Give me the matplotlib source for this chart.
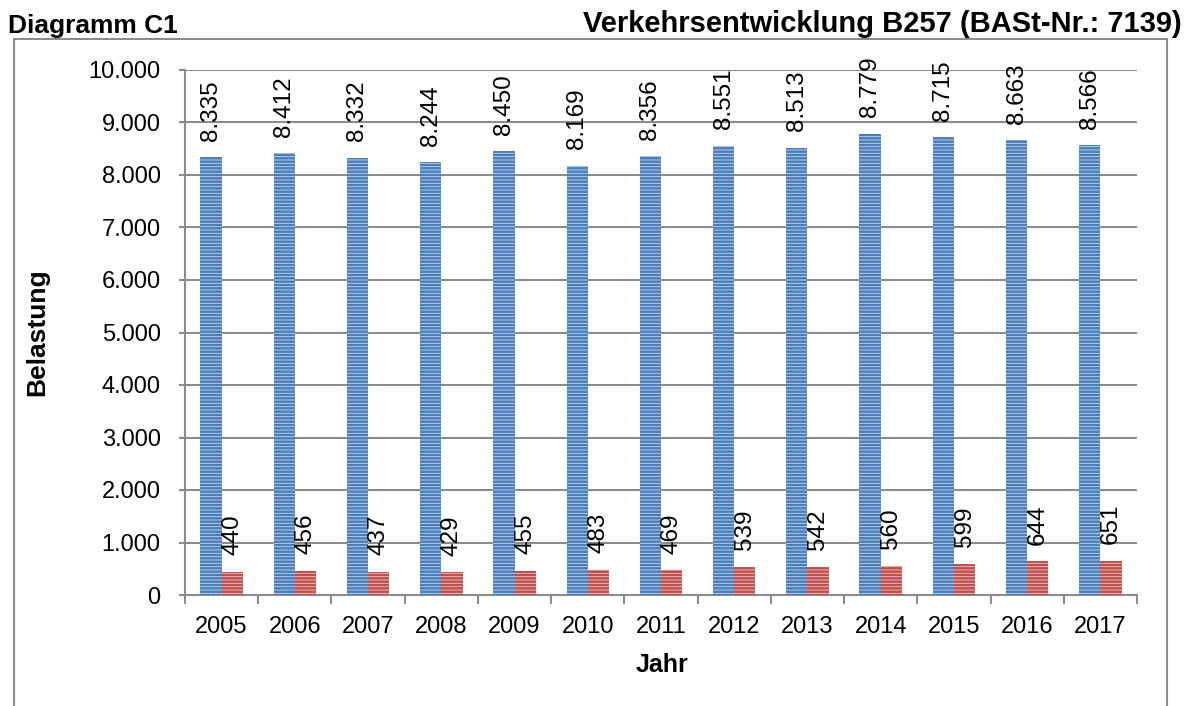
import numpy as np
import matplotlib.pyplot as plt
from matplotlib.patches import Rectangle
from matplotlib.ticker import FuncFormatter, MultipleLocator

years = ['2005', '2006', '2007', '2008', '2009', '2010', '2011',
         '2012', '2013', '2014', '2015', '2016', '2017']
kfz = [8335, 8412, 8332, 8244, 8450, 8169, 8356, 8551, 8513, 8779, 8715, 8663, 8566]
sv = [440, 456, 437, 429, 455, 483, 469, 539, 542, 560, 599, 644, 651]

plt.rcParams['font.family'] = ['Liberation Sans', 'DejaVu Sans']
plt.rcParams['hatch.linewidth'] = 1.8

fig = plt.figure(figsize=(11.86, 7.06), dpi=100)
ax = fig.add_axes([185 / 1186, 1 - 595 / 706, (1137 - 185) / 1186, (595 - 70) / 706])

# outer frame around the chart
fig.patches.append(Rectangle((14 / 1186, -0.01), (1167 - 14) / 1186, 1 - 39 / 706 + 0.01,
                             transform=fig.transFigure, fill=False,
                             edgecolor='#8c8c8c', linewidth=1.5))

x = np.arange(len(years))
w = 0.29
b1 = ax.bar(x - w / 2, kfz, w, color='#c6d9f1', edgecolor='none',
            hatch='-----', zorder=3)
b2 = ax.bar(x + w / 2, sv, w, color='#f2c6c6', edgecolor='none',
            hatch='-----', zorder=3)
for p in b1:
    p.set_edgecolor('#4a7ebb')
    p.set_linewidth(0)
for p in b2:
    p.set_edgecolor('#c0504d')
    p.set_linewidth(0)

fmt = lambda v: f'{v:,}'.replace(',', '.')
for xi, v in zip(x, kfz):
    ax.annotate(fmt(v), (xi - w / 2, v), xytext=(0, 12), textcoords='offset points',
                rotation=90, ha='center', va='bottom', fontsize=17.5)
for xi, v in zip(x, sv):
    ax.annotate(fmt(v), (xi + w / 2, v), xytext=(0, 12), textcoords='offset points',
                rotation=90, ha='center', va='bottom', fontsize=17.5)

ax.set_xlim(-0.5, len(years) - 0.5)
ax.set_ylim(0, 10000)
ax.yaxis.set_major_locator(MultipleLocator(1000))
ax.yaxis.set_major_formatter(FuncFormatter(lambda v, p: fmt(int(v))))
ax.set_xticks(x)
ax.set_xticklabels(years)
ax.set_xticks(np.arange(-0.5, len(years), 1), minor=True)
ax.tick_params(axis='x', which='major', length=0, pad=15, labelsize=17)
ax.tick_params(axis='x', which='minor', length=6.5, width=1.5, color='#8c8c8c', direction='out')
ax.tick_params(axis='y', length=4.5, width=1.5, color='#8c8c8c', labelsize=17, pad=13)

ax.grid(axis='y', color='#8c8c8c', linewidth=1.5, zorder=0)
for s in ['top', 'right']:
    ax.spines[s].set_visible(False)
for s in ['left', 'bottom']:
    ax.spines[s].set_color('#8c8c8c')
    ax.spines[s].set_linewidth(1.5)

ax.set_ylabel('Belastung', fontsize=19, fontweight='bold')
ax.yaxis.set_label_coords((49 - 185) / 952, 0.5)
ax.set_xlabel('Jahr', fontsize=18, fontweight='bold')
ax.xaxis.set_label_coords(0.501, (595 - 653) / 525)

fig.text(8 / 1186, 1 - 33 / 706, 'Diagramm C1', fontsize=19, fontweight='bold',
         ha='left', va='baseline')
fig.text(1182 / 1186, 1 - 32 / 706, 'Verkehrsentwicklung B257 (BASt-Nr.: 7139)',
         fontsize=21, fontweight='bold', ha='right', va='baseline')

fig.savefig('out.png', dpi=100)
